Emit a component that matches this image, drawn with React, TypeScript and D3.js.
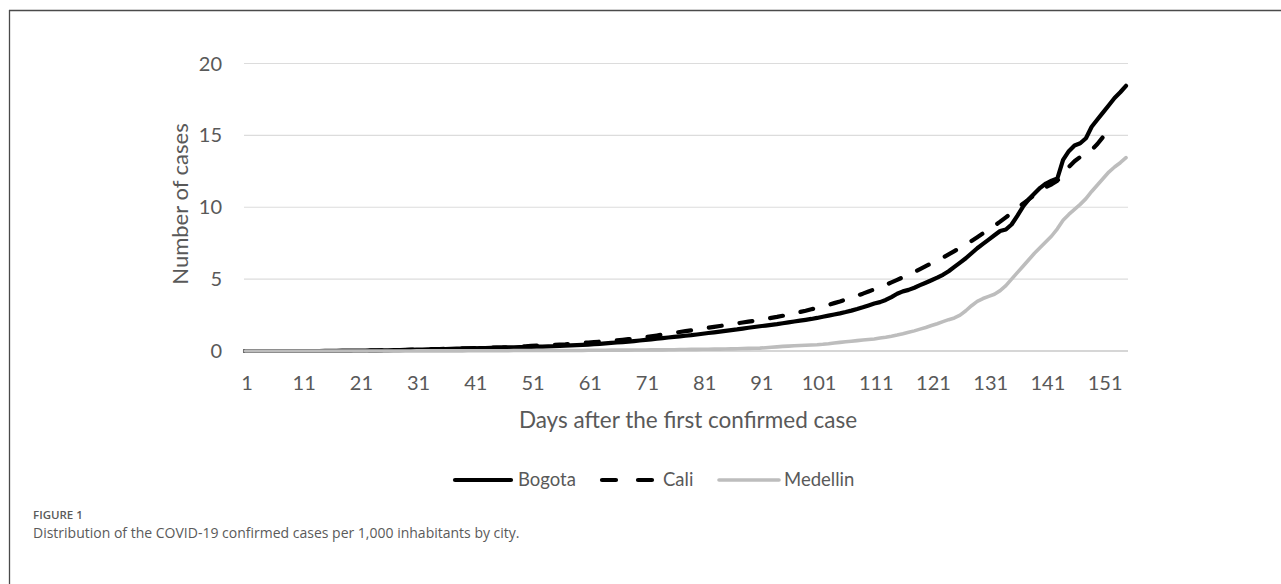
import React from "react";
import * as d3 from "d3";

// Cases per 1,000 inhabitants, day 1..155 (Cali reported to day 152)
const bogota: number[] = [
  0, 0, 0, 0, 0, 0, 0, 0, 0, 0,
  0, 0, 0, 0, 0.01, 0.01, 0.01, 0.02, 0.02, 0.02,
  0.03, 0.03, 0.04, 0.04, 0.05, 0.05, 0.06, 0.06, 0.07, 0.08,
  0.09, 0.1, 0.11, 0.12, 0.13, 0.14, 0.15, 0.16, 0.17, 0.18,
  0.19, 0.2, 0.21, 0.22, 0.23, 0.24, 0.25, 0.26, 0.27, 0.28,
  0.29, 0.3, 0.31, 0.32, 0.33, 0.35, 0.37, 0.39, 0.41, 0.43,
  0.45, 0.47, 0.5, 0.53, 0.56, 0.59, 0.62, 0.65, 0.69, 0.73,
  0.77, 0.81, 0.85, 0.9, 0.94, 0.98, 1.02, 1.06, 1.1, 1.15,
  1.2, 1.25, 1.3, 1.35, 1.4, 1.45, 1.5, 1.56, 1.62, 1.67,
  1.72, 1.77, 1.82, 1.87, 1.93, 1.99, 2.05, 2.11, 2.17, 2.23,
  2.3, 2.38, 2.46, 2.54, 2.62, 2.71, 2.81, 2.92, 3.04, 3.17,
  3.3, 3.4, 3.55, 3.75, 3.98, 4.15, 4.25, 4.4, 4.58, 4.75,
  4.92, 5.1, 5.3, 5.55, 5.85, 6.15, 6.45, 6.8, 7.15, 7.45,
  7.75, 8.05, 8.35, 8.45, 8.8, 9.4, 10.05, 10.55, 10.95, 11.35,
  11.65, 11.85, 12.0, 13.3, 13.9, 14.3, 14.45, 14.8, 15.6, 16.1,
  16.6, 17.1, 17.6, 18.0, 18.45,
];

const cali: number[] = [
  0, 0, 0, 0, 0, 0, 0, 0, 0, 0,
  0, 0, 0, 0, 0, 0, 0, 0, 0, 0,
  0.01, 0.01, 0.02, 0.03, 0.04, 0.05, 0.06, 0.07, 0.08, 0.09,
  0.1, 0.11, 0.12, 0.13, 0.14, 0.15, 0.16, 0.17, 0.18, 0.19,
  0.2, 0.21, 0.22, 0.23, 0.24, 0.25, 0.27, 0.29, 0.31, 0.33,
  0.35, 0.37, 0.39, 0.41, 0.43, 0.45, 0.47, 0.5, 0.53, 0.56,
  0.59, 0.62, 0.65, 0.68, 0.71, 0.74, 0.78, 0.82, 0.86, 0.9,
  0.96, 1.02, 1.08, 1.14, 1.2, 1.26, 1.32, 1.38, 1.44, 1.5,
  1.56, 1.62, 1.68, 1.74, 1.8, 1.86, 1.92, 1.98, 2.04, 2.1,
  2.16, 2.23, 2.3, 2.37, 2.45, 2.53, 2.62, 2.71, 2.8, 2.9,
  3.0, 3.1, 3.21, 3.33, 3.45, 3.58, 3.71, 3.85, 3.99, 4.14,
  4.29, 4.44, 4.6, 4.77, 4.95, 5.13, 5.31, 5.5, 5.7, 5.9,
  6.1, 6.3, 6.5, 6.72, 6.95, 7.18, 7.42, 7.66, 7.92, 8.18,
  8.45, 8.72, 9.0, 9.3, 9.6, 9.92, 10.25, 10.55, 10.85, 11.15,
  11.4, 11.6, 11.85, 12.3, 12.8, 13.2, 13.5, 13.75, 14.0, 14.4,
  14.9, 15.4,
];

const medellin: number[] = [
  0, 0, 0, 0, 0, 0, 0, 0, 0, 0,
  0, 0, 0, 0, 0, 0, 0, 0, 0, 0,
  0, 0, 0, 0, 0, 0, 0, 0, 0, 0,
  0.01, 0.01, 0.01, 0.01, 0.01, 0.01, 0.01, 0.01, 0.01, 0.02,
  0.02, 0.02, 0.02, 0.02, 0.02, 0.02, 0.02, 0.03, 0.03, 0.03,
  0.03, 0.03, 0.03, 0.03, 0.04, 0.04, 0.04, 0.04, 0.04, 0.04,
  0.05, 0.05, 0.05, 0.05, 0.06, 0.06, 0.06, 0.06, 0.07, 0.07,
  0.07, 0.08, 0.08, 0.08, 0.09, 0.09, 0.1, 0.1, 0.11, 0.11,
  0.12, 0.12, 0.13, 0.13, 0.14, 0.15, 0.16, 0.17, 0.18, 0.19,
  0.2, 0.23, 0.26, 0.29, 0.32, 0.34, 0.36, 0.38, 0.4, 0.42,
  0.44, 0.47, 0.51, 0.56, 0.6, 0.64, 0.68, 0.72, 0.76, 0.8,
  0.84, 0.9, 0.96, 1.03, 1.11, 1.2, 1.3, 1.4, 1.52, 1.64,
  1.77, 1.9, 2.04, 2.18, 2.3, 2.5, 2.8, 3.15, 3.45, 3.65,
  3.8, 3.95, 4.2, 4.55, 5.0, 5.45, 5.9, 6.35, 6.8, 7.2,
  7.6, 8.0, 8.5, 9.1, 9.5, 9.85, 10.2, 10.6, 11.1, 11.55,
  12.0, 12.45, 12.8, 13.1, 13.45,
];

const xTickLabels: number[] = [1, 11, 21, 31, 41, 51, 61, 71, 81, 91, 101, 111, 121, 131, 141, 151];
const yTickValues: number[] = [0, 5, 10, 15, 20];
const seriesNames: string[] = ["Bogota", "Cali", "Medellin"];

const FONT = "Lato, 'Open Sans', sans-serif";
const CAPTION_FONT = "'Open Sans', 'Noto Sans', sans-serif";
const TEXT = "#595959";

export default function App() {
  const width = 1281;
  const height = 584;
  const x = d3.scaleLinear().domain([1, 155]).range([245, 1126]);
  const y = d3.scaleLinear().domain([0, 20]).range([351, 63.5]);
  const gridX0 = 244;
  const gridX1 = 1128;

  const line = d3
    .line<number>()
    .x((_, i) => x(i + 1))
    .y((v) => y(v));

  const series = [
    { name: seriesNames[0], data: bogota, stroke: "#000", width: 4.2, dash: undefined as string | undefined },
    { name: seriesNames[1], data: cali, stroke: "#000", width: 4.2, dash: "13 18" },
    { name: seriesNames[2], data: medellin, stroke: "#bdbdbd", width: 3.6, dash: undefined },
  ];

  const legendItems = [
    { x0: 455, x1: 511, tx: 518, s: series[0] },
    { x0: 602, x1: 655, tx: 663, s: series[1] },
    { x0: 719, x1: 779, tx: 784, s: series[2] },
  ];

  return (
    <svg
      width={width}
      height={height}
      style={{ position: "absolute", left: 0, top: 0, background: "#fff" }}
    >
      {/* frame */}
      <line x1={9.5} y1={10} x2={9.5} y2={height} stroke="#4a4a4a" strokeWidth={1.3} />
      <line x1={9} y1={10.5} x2={width} y2={10.5} stroke="#4a4a4a" strokeWidth={1.3} />

      {/* gridlines */}
      {yTickValues.map((v) => (
        <line
          key={v}
          x1={gridX0}
          x2={gridX1}
          y1={y(v)}
          y2={y(v)}
          stroke={v === 0 ? "#c8c8c8" : "#dcdcdc"}
          strokeWidth={v === 0 ? 1.5 : 1.2}
        />
      ))}

      {/* y tick labels */}
      {yTickValues.map((v) => (
        <text
          key={v}
          x={222}
          y={y(v)}
          dy="0.35em"
          textAnchor="end"
          fontFamily={FONT}
          fontSize={20}
          fill={TEXT}
        >
          {v}
        </text>
      ))}

      {/* x tick labels */}
      {xTickLabels.map((d) => (
        <text
          key={d}
          x={x(d) + 2}
          y={390}
          textAnchor="middle"
          fontFamily={FONT}
          fontSize={20}
          fill={TEXT}
        >
          {d}
        </text>
      ))}

      {/* axis titles */}
      <text
        x={688}
        y={428}
        textAnchor="middle"
        fontFamily={FONT}
        fontSize={22.5}
        fill={TEXT}
      >
        Days after the first confirmed case
      </text>
      <text
        transform={`translate(188, 204) rotate(-90)`}
        textAnchor="middle"
        fontFamily={FONT}
        fontSize={22}
        fill={TEXT}
      >
        Number of cases
      </text>

      {/* series */}
      {series.map((s) => (
        <path
          key={s.name}
          d={line(s.data) || ""}
          fill="none"
          stroke={s.stroke}
          strokeWidth={s.width}
          strokeDasharray={s.dash}
          strokeLinecap="round"
          strokeLinejoin="round"
        />
      ))}

      {/* legend */}
      {legendItems.map((it) => (
        <g key={it.s.name}>
          <line
            x1={it.x0}
            x2={it.x1}
            y1={480}
            y2={480}
            stroke={it.s.stroke}
            strokeWidth={it.s.width}
            strokeDasharray={it.s.dash ? "14 22" : undefined}
            strokeLinecap="round"
          />
          <text
            x={it.tx}
            y={480}
            dy="0.35em"
            fontFamily={FONT}
            fontSize={18.5}
            fill={TEXT}
          >
            {it.s.name}
          </text>
        </g>
      ))}

      {/* caption */}
      <text x={33} y={519} fontFamily={CAPTION_FONT} fontSize={11.5} fontWeight={600} fill="#5a5a5a">
        FIGURE 1
      </text>
      <text x={33} y={538} fontFamily={CAPTION_FONT} fontSize={14} fill="#5a5a5a">
        Distribution of the COVID-19 confirmed cases per 1,000 inhabitants by city.
      </text>
    </svg>
  );
}
